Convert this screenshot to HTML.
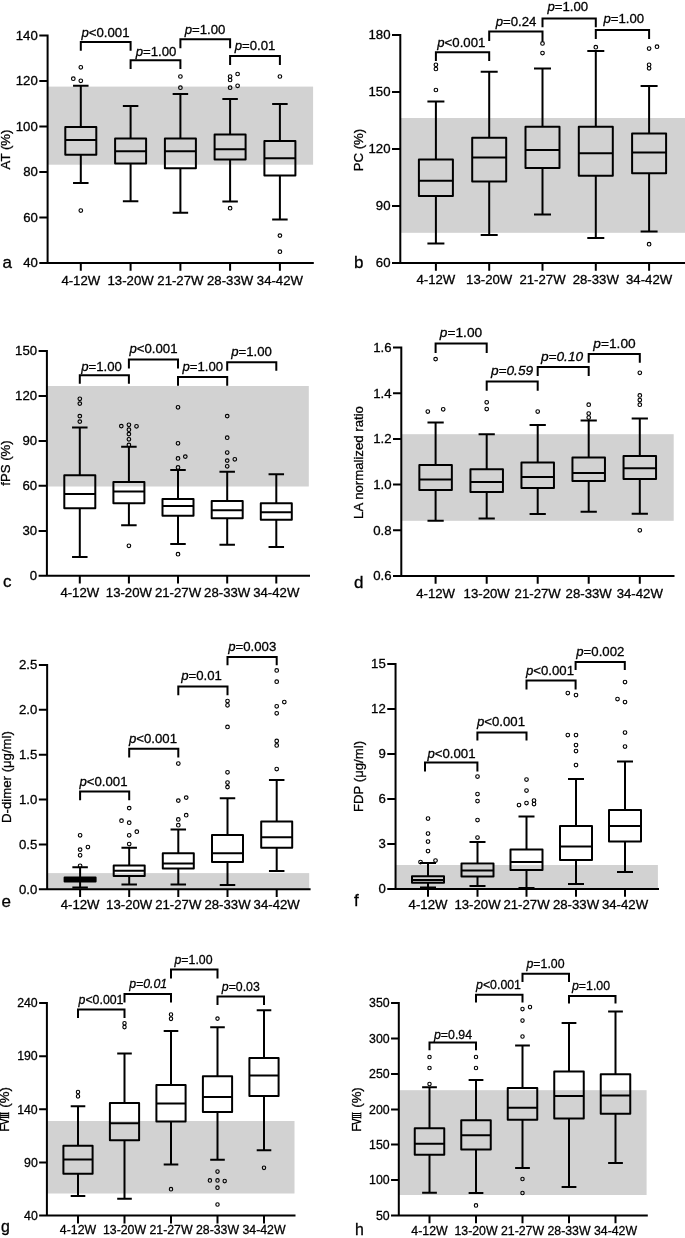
<!DOCTYPE html>
<html><head><meta charset="utf-8"><title>Figure</title>
<style>
html,body{margin:0;padding:0;background:#fff}
svg{display:block;will-change:transform}
text{font-family:"Liberation Sans",sans-serif;font-size:13.2px;fill:#000;stroke:#000;stroke-width:0.3px}
.l{fill:none;stroke:#000;stroke-width:2.0;stroke-linecap:butt;stroke-linejoin:miter}
.b{fill:none;stroke:#000;stroke-width:2.0;stroke-linejoin:round}
.o{fill:none;stroke:#000;stroke-width:1.15}
</style></head><body>
<svg width="685" height="1238" viewBox="0 0 685 1238">
<rect width="685" height="1238" fill="#fff"/>
<g id="panel-a">
<rect x="47.6" y="86.6" width="265.50" height="78.10" fill="#d2d2d2"/>
<path d="M47.6 34.60V263.0H313.8M39.30 35.6H47.6M39.30 81.1H47.6M39.30 126.6H47.6M39.30 172.0H47.6M39.30 217.5H47.6M39.30 263.0H47.6M80.8 263.0V270.80M130.6 263.0V270.80M180.4 263.0V270.80M230.1 263.0V270.80M279.9 263.0V270.80" class="l"/>
<text x="37.8" y="39.8" text-anchor="end">140</text>
<text x="37.8" y="85.3" text-anchor="end">120</text>
<text x="37.8" y="130.8" text-anchor="end">100</text>
<text x="37.8" y="176.2" text-anchor="end">80</text>
<text x="37.8" y="221.7" text-anchor="end">60</text>
<text x="37.8" y="267.2" text-anchor="end">40</text>
<text x="80.8" y="284.5" text-anchor="middle">4-12W</text>
<text x="130.6" y="284.5" text-anchor="middle">13-20W</text>
<text x="180.4" y="284.5" text-anchor="middle">21-27W</text>
<text x="230.1" y="284.5" text-anchor="middle">28-33W</text>
<text x="279.9" y="284.5" text-anchor="middle">34-42W</text>
<path d="M65.30 127H96.30V154.8H65.30ZM65.30 140H96.30M80.8 127V85.7M73.05 85.7H88.55M80.8 154.8V183M73.05 183H88.55M115.10 138.6H146.10V163.6H115.10ZM115.10 151.2H146.10M130.6 138.6V106M122.85 106H138.35M130.6 163.6V201.3M122.85 201.3H138.35M164.90 138.6H195.90V168.3H164.90ZM164.90 151.2H195.90M180.4 138.6V94M172.65 94H188.15M180.4 168.3V212.8M172.65 212.8H188.15M214.60 134.5H245.60V159.5H214.60ZM214.60 149.2H245.60M230.1 134.5V99M222.35 99H237.85M230.1 159.5V201.5M222.35 201.5H237.85M264.40 141H295.40V175.4H264.40ZM264.40 158.3H295.40M279.9 141V104M272.15 104H287.65M279.9 175.4V219.5M272.15 219.5H287.65" class="b"/>
<ellipse cx="80.8" cy="67.3" rx="1.80" ry="1.8" class="o"/>
<ellipse cx="73.3" cy="78.7" rx="1.80" ry="1.8" class="o"/>
<ellipse cx="80.8" cy="80.8" rx="1.80" ry="1.8" class="o"/>
<ellipse cx="80.8" cy="210.5" rx="1.80" ry="1.8" class="o"/>
<ellipse cx="180.4" cy="76.5" rx="1.80" ry="1.8" class="o"/>
<ellipse cx="180.4" cy="87.7" rx="1.80" ry="1.8" class="o"/>
<ellipse cx="230.1" cy="76.5" rx="1.80" ry="1.8" class="o"/>
<ellipse cx="237.6" cy="74" rx="1.80" ry="1.8" class="o"/>
<ellipse cx="230.1" cy="80" rx="1.80" ry="1.8" class="o"/>
<ellipse cx="237.6" cy="85.8" rx="1.80" ry="1.8" class="o"/>
<ellipse cx="230.1" cy="87.7" rx="1.80" ry="1.8" class="o"/>
<ellipse cx="230.1" cy="208.2" rx="1.80" ry="1.8" class="o"/>
<ellipse cx="279.9" cy="76.5" rx="1.80" ry="1.8" class="o"/>
<ellipse cx="279.9" cy="235.6" rx="1.80" ry="1.8" class="o"/>
<ellipse cx="279.9" cy="251.7" rx="1.80" ry="1.8" class="o"/>
<path d="M80.8 50.7V42H130.6V50.7M130.6 69V60.3H180.4V69M180.4 48.3V39.2H230.1V48.3M230.1 65V56H279.9V65" class="l"/>
<text x="105.5" y="37" text-anchor="middle"><tspan font-style="italic">p</tspan>&lt;0.001</text>
<text x="156" y="55.5" text-anchor="middle"><tspan font-style="italic">p</tspan>=1.00</text>
<text x="205" y="33.5" text-anchor="middle"><tspan font-style="italic">p</tspan>=1.00</text>
<text x="255" y="50" text-anchor="middle"><tspan font-style="italic">p</tspan>=0.01</text>
<text x="2.5" y="267.6" style="font-size:17px">a</text>
<text transform="translate(10 149.5) rotate(-90)" text-anchor="middle">AT (%)</text>
</g>
<g id="panel-b">
<rect x="400.3" y="118" width="284.70" height="114.80" fill="#d2d2d2"/>
<path d="M400.3 34.00V262.9H685M392.00 35.0H400.3M392.00 92.0H400.3M392.00 149.0H400.3M392.00 205.9H400.3M392.00 262.9H400.3M435.9 262.9V270.70M489.2 262.9V270.70M542.5 262.9V270.70M595.8 262.9V270.70M649.1 262.9V270.70" class="l"/>
<text x="390.5" y="39.2" text-anchor="end">180</text>
<text x="390.5" y="96.2" text-anchor="end">150</text>
<text x="390.5" y="153.2" text-anchor="end">120</text>
<text x="390.5" y="210.1" text-anchor="end">90</text>
<text x="390.5" y="267.1" text-anchor="end">60</text>
<text x="435.9" y="283.8" text-anchor="middle">4-12W</text>
<text x="489.2" y="283.8" text-anchor="middle">13-20W</text>
<text x="542.5" y="283.8" text-anchor="middle">21-27W</text>
<text x="595.8" y="283.8" text-anchor="middle">28-33W</text>
<text x="649.1" y="283.8" text-anchor="middle">34-42W</text>
<path d="M418.90 159.5H452.90V196H418.90ZM418.90 180.8H452.90M435.9 159.5V101.6M427.40 101.6H444.40M435.9 196V243.5M427.40 243.5H444.40M472.20 137.8H506.20V181.5H472.20ZM472.20 157.6H506.20M489.2 137.8V71.7M480.70 71.7H497.70M489.2 181.5V235M480.70 235H497.70M525.50 126.8H559.50V168H525.50ZM525.50 150H559.50M542.5 126.8V68.4M534.00 68.4H551.00M542.5 168V214.4M534.00 214.4H551.00M578.80 126.8H612.80V175.8H578.80ZM578.80 153.3H612.80M595.8 126.8V51M587.30 51H604.30M595.8 175.8V238M587.30 238H604.30M632.10 133.6H666.10V173.3H632.10ZM632.10 152.5H666.10M649.1 133.6V86M640.60 86H657.60M649.1 173.3V231.5M640.60 231.5H657.60" class="b"/>
<ellipse cx="435.9" cy="64.8" rx="1.80" ry="1.8" class="o"/>
<ellipse cx="435.9" cy="69" rx="1.80" ry="1.8" class="o"/>
<ellipse cx="435.9" cy="90" rx="1.80" ry="1.8" class="o"/>
<ellipse cx="542.5" cy="43.4" rx="1.80" ry="1.8" class="o"/>
<ellipse cx="542.5" cy="53" rx="1.80" ry="1.8" class="o"/>
<ellipse cx="595.8" cy="47.2" rx="1.80" ry="1.8" class="o"/>
<ellipse cx="649.1" cy="48.5" rx="1.80" ry="1.8" class="o"/>
<ellipse cx="657" cy="46.7" rx="1.80" ry="1.8" class="o"/>
<ellipse cx="649.1" cy="64.8" rx="1.80" ry="1.8" class="o"/>
<ellipse cx="649.1" cy="68.3" rx="1.80" ry="1.8" class="o"/>
<ellipse cx="649.1" cy="244.2" rx="1.80" ry="1.8" class="o"/>
<path d="M435.9 61V52.2H489.2V61M489.2 41V31.5H542.5V41M542.5 27.2V18.5H595.8V27.2M595.8 39V30H649.1V39" class="l"/>
<text x="461.3" y="47" text-anchor="middle"><tspan font-style="italic">p</tspan>&lt;0.001</text>
<text x="516" y="26" text-anchor="middle"><tspan font-style="italic">p</tspan>=0.24</text>
<text x="567.8" y="11" text-anchor="middle"><tspan font-style="italic">p</tspan>=1.00</text>
<text x="623.8" y="23" text-anchor="middle"><tspan font-style="italic">p</tspan>=1.00</text>
<text x="354" y="267.5" style="font-size:17px">b</text>
<text transform="translate(362.5 150) rotate(-90)" text-anchor="middle">PC (%)</text>
</g>
<g id="panel-c">
<rect x="46.9" y="386" width="261.90" height="100.50" fill="#d2d2d2"/>
<path d="M46.9 350.00V575.8H310M38.60 351.0H46.9M38.60 396.0H46.9M38.60 440.9H46.9M38.60 485.8H46.9M38.60 530.9H46.9M38.60 575.8H46.9M79.8 575.8V583.60M128.9 575.8V583.60M178 575.8V583.60M227.2 575.8V583.60M276.3 575.8V583.60" class="l"/>
<text x="37.1" y="355.2" text-anchor="end">150</text>
<text x="37.1" y="400.2" text-anchor="end">120</text>
<text x="37.1" y="445.1" text-anchor="end">90</text>
<text x="37.1" y="490.0" text-anchor="end">60</text>
<text x="37.1" y="535.1" text-anchor="end">30</text>
<text x="37.1" y="580.0" text-anchor="end">0</text>
<text x="79.8" y="596.8" text-anchor="middle">4-12W</text>
<text x="128.9" y="596.8" text-anchor="middle">13-20W</text>
<text x="178" y="596.8" text-anchor="middle">21-27W</text>
<text x="227.2" y="596.8" text-anchor="middle">28-33W</text>
<text x="276.3" y="596.8" text-anchor="middle">34-42W</text>
<path d="M64.30 475.2H95.30V508.2H64.30ZM64.30 494H95.30M79.8 475.2V427.5M72.05 427.5H87.55M79.8 508.2V557M72.05 557H87.55M113.40 482H144.40V503.2H113.40ZM113.40 491.5H144.40M128.9 482V446.7M121.15 446.7H136.65M128.9 503.2V525.2M121.15 525.2H136.65M162.50 499H193.50V515.7H162.50ZM162.50 506H193.50M178 499V470M170.25 470H185.75M178 515.7V544M170.25 544H185.75M211.70 501H242.70V518.2H211.70ZM211.70 510.2H242.70M227.2 501V471.7M219.45 471.7H234.95M227.2 518.2V544.8M219.45 544.8H234.95M260.80 503.2H291.80V519.7H260.80ZM260.80 512.2H291.80M276.3 503.2V474.2M268.55 474.2H284.05M276.3 519.7V547M268.55 547H284.05" class="b"/>
<ellipse cx="79.8" cy="398.8" rx="1.80" ry="1.8" class="o"/>
<ellipse cx="79.8" cy="403.6" rx="1.80" ry="1.8" class="o"/>
<ellipse cx="79.8" cy="416.1" rx="1.80" ry="1.8" class="o"/>
<ellipse cx="79.8" cy="421.6" rx="1.80" ry="1.8" class="o"/>
<ellipse cx="121.3" cy="426.1" rx="1.80" ry="1.8" class="o"/>
<ellipse cx="128.9" cy="424.8" rx="1.80" ry="1.8" class="o"/>
<ellipse cx="136.5" cy="426.3" rx="1.80" ry="1.8" class="o"/>
<ellipse cx="128.9" cy="429.7" rx="1.80" ry="1.8" class="o"/>
<ellipse cx="128.9" cy="434.1" rx="1.80" ry="1.8" class="o"/>
<ellipse cx="128.9" cy="439.3" rx="1.80" ry="1.8" class="o"/>
<ellipse cx="128.9" cy="444.9" rx="1.80" ry="1.8" class="o"/>
<ellipse cx="128.9" cy="545.8" rx="1.80" ry="1.8" class="o"/>
<ellipse cx="178" cy="407.3" rx="1.80" ry="1.8" class="o"/>
<ellipse cx="178" cy="443.3" rx="1.80" ry="1.8" class="o"/>
<ellipse cx="178" cy="458.4" rx="1.80" ry="1.8" class="o"/>
<ellipse cx="185.3" cy="456.6" rx="1.80" ry="1.8" class="o"/>
<ellipse cx="178" cy="467.4" rx="1.80" ry="1.8" class="o"/>
<ellipse cx="178" cy="554.2" rx="1.80" ry="1.8" class="o"/>
<ellipse cx="227.2" cy="416.1" rx="1.80" ry="1.8" class="o"/>
<ellipse cx="227.2" cy="437.7" rx="1.80" ry="1.8" class="o"/>
<ellipse cx="227.2" cy="452.5" rx="1.80" ry="1.8" class="o"/>
<ellipse cx="227.2" cy="460.6" rx="1.80" ry="1.8" class="o"/>
<ellipse cx="234.8" cy="459.3" rx="1.80" ry="1.8" class="o"/>
<ellipse cx="227.2" cy="466.3" rx="1.80" ry="1.8" class="o"/>
<path d="M79.8 383.7V375.2H128.9V383.7M128.9 368.5V359.6H178V368.5M178 385.7V377H227.2V385.7M227.2 370.7V362.2H276.3V370.7" class="l"/>
<text x="101.5" y="371" text-anchor="middle"><tspan font-style="italic">p</tspan>=1.00</text>
<text x="153.5" y="353" text-anchor="middle"><tspan font-style="italic">p</tspan>&lt;0.001</text>
<text x="202.8" y="371" text-anchor="middle"><tspan font-style="italic">p</tspan>=1.00</text>
<text x="251.5" y="356.2" text-anchor="middle"><tspan font-style="italic">p</tspan>=1.00</text>
<text x="3" y="586.5" style="font-size:17px">c</text>
<text transform="translate(10 463) rotate(-90)" text-anchor="middle">fPS (%)</text>
</g>
<g id="panel-d">
<rect x="401.3" y="434.2" width="272.40" height="86.60" fill="#d2d2d2"/>
<path d="M401.3 346.60V576.0H674.5M393.00 347.6H401.3M393.00 393.3H401.3M393.00 439.0H401.3M393.00 484.6H401.3M393.00 530.3H401.3M393.00 576.0H401.3M435.6 576.0V583.80M486.7 576.0V583.80M537.7 576.0V583.80M588.7 576.0V583.80M639.8 576.0V583.80" class="l"/>
<text x="391.5" y="351.8" text-anchor="end">1.6</text>
<text x="391.5" y="397.5" text-anchor="end">1.4</text>
<text x="391.5" y="443.2" text-anchor="end">1.2</text>
<text x="391.5" y="488.8" text-anchor="end">1.0</text>
<text x="391.5" y="534.5" text-anchor="end">0.8</text>
<text x="391.5" y="580.2" text-anchor="end">0.6</text>
<text x="435.6" y="597.5" text-anchor="middle">4-12W</text>
<text x="486.7" y="597.5" text-anchor="middle">13-20W</text>
<text x="537.7" y="597.5" text-anchor="middle">21-27W</text>
<text x="588.7" y="597.5" text-anchor="middle">28-33W</text>
<text x="639.8" y="597.5" text-anchor="middle">34-42W</text>
<path d="M419.35 465H451.85V490.1H419.35ZM419.35 479.6H451.85M435.6 465V422.6M427.48 422.6H443.73M435.6 490.1V520.8M427.48 520.8H443.73M470.45 469.2H502.95V492.1H470.45ZM470.45 482H502.95M486.7 469.2V434.2M478.57 434.2H494.82M486.7 492.1V518.6M478.57 518.6H494.82M521.45 462.5H553.95V488H521.45ZM521.45 477H553.95M537.7 462.5V425M529.58 425H545.83M537.7 488V514M529.58 514H545.83M572.45 457.6H604.95V481H572.45ZM572.45 473H604.95M588.7 457.6V420.5M580.58 420.5H596.83M588.7 481V511.8M580.58 511.8H596.83M623.55 456H656.05V478.9H623.55ZM623.55 468.3H656.05M639.8 456V418.5M631.67 418.5H647.92M639.8 478.9V513.8M631.67 513.8H647.92" class="b"/>
<ellipse cx="435.6" cy="359.1" rx="1.80" ry="1.8" class="o"/>
<ellipse cx="427.8" cy="411.5" rx="1.80" ry="1.8" class="o"/>
<ellipse cx="443.2" cy="409.3" rx="1.80" ry="1.8" class="o"/>
<ellipse cx="486.7" cy="402.3" rx="1.80" ry="1.8" class="o"/>
<ellipse cx="486.7" cy="409" rx="1.80" ry="1.8" class="o"/>
<ellipse cx="537.7" cy="411.5" rx="1.80" ry="1.8" class="o"/>
<ellipse cx="588.7" cy="404.7" rx="1.80" ry="1.8" class="o"/>
<ellipse cx="588.7" cy="413.5" rx="1.80" ry="1.8" class="o"/>
<ellipse cx="588.7" cy="417.5" rx="1.80" ry="1.8" class="o"/>
<ellipse cx="639.8" cy="372.8" rx="1.80" ry="1.8" class="o"/>
<ellipse cx="639.8" cy="395.4" rx="1.80" ry="1.8" class="o"/>
<ellipse cx="639.8" cy="400" rx="1.80" ry="1.8" class="o"/>
<ellipse cx="639.8" cy="404.7" rx="1.80" ry="1.8" class="o"/>
<ellipse cx="639.8" cy="530.3" rx="1.80" ry="1.8" class="o"/>
<path d="M435.6 353V343.5H486.7V353M486.7 390.8V381.5H537.7V390.8M537.7 376V367H588.7V376M588.7 362.7V354H639.8V362.7" class="l"/>
<text x="461" y="337" text-anchor="middle" style="font-size:13.7px"><tspan font-style="italic">p</tspan>=1.00</text>
<text x="512" y="375" text-anchor="middle" font-style="italic" style="font-size:13.7px">p=0.59</text>
<text x="562" y="361" text-anchor="middle" font-style="italic" style="font-size:13.7px">p=0.10</text>
<text x="614.5" y="347.5" text-anchor="middle" style="font-size:13.7px"><tspan font-style="italic">p</tspan>=1.00</text>
<text x="354" y="588" style="font-size:17px">d</text>
<text transform="translate(363 462.5) rotate(-90)" text-anchor="middle">LA normalized ratio</text>
</g>
<g id="panel-e">
<rect x="47.15" y="873.1" width="262.05" height="15.90" fill="#d2d2d2"/>
<path d="M47.15 663.90V889.3H310.6M38.85 664.9H47.15M38.85 709.8H47.15M38.85 754.7H47.15M38.85 799.5H47.15M38.85 844.4H47.15M38.85 889.3H47.15M80.1 889.3V897.10M129.2 889.3V897.10M178.3 889.3V897.10M227.5 889.3V897.10M276.7 889.3V897.10" class="l"/>
<text x="37.35" y="669.1" text-anchor="end">2.5</text>
<text x="37.35" y="714.0" text-anchor="end">2.0</text>
<text x="37.35" y="758.9" text-anchor="end">1.5</text>
<text x="37.35" y="803.7" text-anchor="end">1.0</text>
<text x="37.35" y="848.6" text-anchor="end">0.5</text>
<text x="37.35" y="893.5" text-anchor="end">0.0</text>
<text x="80.1" y="909.4" text-anchor="middle">4-12W</text>
<text x="129.2" y="909.4" text-anchor="middle">13-20W</text>
<text x="178.3" y="909.4" text-anchor="middle">21-27W</text>
<text x="227.5" y="909.4" text-anchor="middle">28-33W</text>
<text x="276.7" y="909.4" text-anchor="middle">34-42W</text>
<path d="M64.60 877.6H95.60V881.5H64.60ZM64.60 879.5H95.60M80.1 877.6V867.2M72.35 867.2H87.85M80.1 881.5V887.4M72.35 887.4H87.85M113.70 865.6H144.70V875.9H113.70ZM113.70 870.7H144.70M129.2 865.6V847.8M121.45 847.8H136.95M129.2 875.9V884.5M121.45 884.5H136.95M162.80 853.3H193.80V868.6H162.80ZM162.80 863.4H193.80M178.3 853.3V829.5M170.55 829.5H186.05M178.3 868.6V884.5M170.55 884.5H186.05M212.00 835H243.00V861.9H212.00ZM212.00 853.3H243.00M227.5 835V798.3M219.75 798.3H235.25M227.5 861.9V885M219.75 885H235.25M261.20 821.4H292.20V847.8H261.20ZM261.20 837.3H292.20M276.7 821.4V780M268.95 780H284.45M276.7 847.8V870.9M268.95 870.9H284.45" class="b"/>
<ellipse cx="80.1" cy="835.3" rx="1.80" ry="1.8" class="o"/>
<ellipse cx="87.9" cy="847" rx="1.80" ry="1.8" class="o"/>
<ellipse cx="80.1" cy="849.6" rx="1.80" ry="1.8" class="o"/>
<ellipse cx="80.1" cy="855.3" rx="1.80" ry="1.8" class="o"/>
<ellipse cx="80.1" cy="865.8" rx="1.80" ry="1.8" class="o"/>
<ellipse cx="129.2" cy="808.1" rx="1.80" ry="1.8" class="o"/>
<ellipse cx="121.5" cy="820.7" rx="1.80" ry="1.8" class="o"/>
<ellipse cx="129.2" cy="822.7" rx="1.80" ry="1.8" class="o"/>
<ellipse cx="136.8" cy="831.7" rx="1.80" ry="1.8" class="o"/>
<ellipse cx="129.2" cy="835.3" rx="1.80" ry="1.8" class="o"/>
<ellipse cx="129.2" cy="844" rx="1.80" ry="1.8" class="o"/>
<ellipse cx="178.3" cy="763.5" rx="1.80" ry="1.8" class="o"/>
<ellipse cx="178.3" cy="800.6" rx="1.80" ry="1.8" class="o"/>
<ellipse cx="186.2" cy="797.6" rx="1.80" ry="1.8" class="o"/>
<ellipse cx="186.2" cy="815.2" rx="1.80" ry="1.8" class="o"/>
<ellipse cx="178.3" cy="819.4" rx="1.80" ry="1.8" class="o"/>
<ellipse cx="178.3" cy="825.2" rx="1.80" ry="1.8" class="o"/>
<ellipse cx="227.5" cy="701" rx="1.80" ry="1.8" class="o"/>
<ellipse cx="227.5" cy="705.3" rx="1.80" ry="1.8" class="o"/>
<ellipse cx="227.5" cy="726.9" rx="1.80" ry="1.8" class="o"/>
<ellipse cx="227.5" cy="772.3" rx="1.80" ry="1.8" class="o"/>
<ellipse cx="227.5" cy="782.5" rx="1.80" ry="1.8" class="o"/>
<ellipse cx="227.5" cy="787.1" rx="1.80" ry="1.8" class="o"/>
<ellipse cx="276.7" cy="670.4" rx="1.80" ry="1.8" class="o"/>
<ellipse cx="276.7" cy="681.7" rx="1.80" ry="1.8" class="o"/>
<ellipse cx="284.3" cy="702" rx="1.80" ry="1.8" class="o"/>
<ellipse cx="276.7" cy="706.3" rx="1.80" ry="1.8" class="o"/>
<ellipse cx="276.7" cy="713.3" rx="1.80" ry="1.8" class="o"/>
<ellipse cx="276.7" cy="740.9" rx="1.80" ry="1.8" class="o"/>
<ellipse cx="276.7" cy="745.4" rx="1.80" ry="1.8" class="o"/>
<ellipse cx="276.7" cy="769" rx="1.80" ry="1.8" class="o"/>
<path d="M80.1 800.2V791.4H129.2V800.2M129.2 757.5V748.7H178.3V757.5M178.3 695.2V686.4H227.5V695.2M227.5 665.2V657H276.7V665.2" class="l"/>
<text x="103.5" y="786" text-anchor="middle"><tspan font-style="italic">p</tspan>&lt;0.001</text>
<text x="153" y="742.8" text-anchor="middle"><tspan font-style="italic">p</tspan>&lt;0.001</text>
<text x="201.5" y="680.2" text-anchor="middle"><tspan font-style="italic">p</tspan>=0.01</text>
<text x="252.2" y="650.5" text-anchor="middle"><tspan font-style="italic">p</tspan>=0.003</text>
<text x="1.5" y="906.8" style="font-size:17px">e</text>
<text transform="translate(11 777) rotate(-90)" text-anchor="middle">D-dimer (μg/ml)</text>
</g>
<g id="panel-f">
<rect x="395.55" y="865" width="262.35" height="24.00" fill="#d2d2d2"/>
<path d="M395.55 663.10V889.0H659M387.25 664.1H395.55M387.25 709.0H395.55M387.25 754.0H395.55M387.25 799.0H395.55M387.25 844.0H395.55M387.25 889.0H395.55M428 889.0V896.80M477.5 889.0V896.80M526.5 889.0V896.80M576 889.0V896.80M625 889.0V896.80" class="l"/>
<text x="385.75" y="668.3" text-anchor="end">15</text>
<text x="385.75" y="713.2" text-anchor="end">12</text>
<text x="385.75" y="758.2" text-anchor="end">9</text>
<text x="385.75" y="803.2" text-anchor="end">6</text>
<text x="385.75" y="848.2" text-anchor="end">3</text>
<text x="385.75" y="893.2" text-anchor="end">0</text>
<text x="428" y="909" text-anchor="middle">4-12W</text>
<text x="477.5" y="909" text-anchor="middle">13-20W</text>
<text x="526.5" y="909" text-anchor="middle">21-27W</text>
<text x="576" y="909" text-anchor="middle">28-33W</text>
<text x="625" y="909" text-anchor="middle">34-42W</text>
<path d="M412.00 876.2H444.00V882.7H412.00ZM412.00 880H444.00M428 876.2V863M420.00 863H436.00M428 882.7V887.5M420.00 887.5H436.00M461.50 863.5H493.50V876.5H461.50ZM461.50 870.5H493.50M477.5 863.5V842M469.50 842H485.50M477.5 876.5V886M469.50 886H485.50M510.50 849.5H542.50V870H510.50ZM510.50 862H542.50M526.5 849.5V816.5M518.50 816.5H534.50M526.5 870V888M518.50 888H534.50M560.00 826H592.00V860H560.00ZM560.00 846.5H592.00M576 826V779M568.00 779H584.00M576 860V884M568.00 884H584.00M609.00 810H641.00V841.5H609.00ZM609.00 826H641.00M625 810V761.5M617.00 761.5H633.00M625 841.5V872M617.00 872H633.00" class="b"/>
<ellipse cx="428" cy="818.5" rx="1.80" ry="1.8" class="o"/>
<ellipse cx="428" cy="833.5" rx="1.80" ry="1.8" class="o"/>
<ellipse cx="428" cy="841.5" rx="1.80" ry="1.8" class="o"/>
<ellipse cx="428" cy="851" rx="1.80" ry="1.8" class="o"/>
<ellipse cx="420.5" cy="862" rx="1.80" ry="1.8" class="o"/>
<ellipse cx="435.5" cy="860.5" rx="1.80" ry="1.8" class="o"/>
<ellipse cx="477.5" cy="776.5" rx="1.80" ry="1.8" class="o"/>
<ellipse cx="477.5" cy="794" rx="1.80" ry="1.8" class="o"/>
<ellipse cx="477.5" cy="801" rx="1.80" ry="1.8" class="o"/>
<ellipse cx="477.5" cy="820" rx="1.80" ry="1.8" class="o"/>
<ellipse cx="477.5" cy="837.5" rx="1.80" ry="1.8" class="o"/>
<ellipse cx="526.5" cy="779.5" rx="1.80" ry="1.8" class="o"/>
<ellipse cx="526.5" cy="790.5" rx="1.80" ry="1.8" class="o"/>
<ellipse cx="534" cy="800.5" rx="1.80" ry="1.8" class="o"/>
<ellipse cx="534" cy="804" rx="1.80" ry="1.8" class="o"/>
<ellipse cx="526.5" cy="803" rx="1.80" ry="1.8" class="o"/>
<ellipse cx="519" cy="805" rx="1.80" ry="1.8" class="o"/>
<ellipse cx="567.8" cy="693" rx="1.80" ry="1.8" class="o"/>
<ellipse cx="576" cy="695" rx="1.80" ry="1.8" class="o"/>
<ellipse cx="567.8" cy="735" rx="1.80" ry="1.8" class="o"/>
<ellipse cx="576" cy="735" rx="1.80" ry="1.8" class="o"/>
<ellipse cx="576" cy="745" rx="1.80" ry="1.8" class="o"/>
<ellipse cx="576" cy="751" rx="1.80" ry="1.8" class="o"/>
<ellipse cx="576" cy="765" rx="1.80" ry="1.8" class="o"/>
<ellipse cx="625" cy="682" rx="1.80" ry="1.8" class="o"/>
<ellipse cx="617.5" cy="699" rx="1.80" ry="1.8" class="o"/>
<ellipse cx="625" cy="702" rx="1.80" ry="1.8" class="o"/>
<ellipse cx="625" cy="732.5" rx="1.80" ry="1.8" class="o"/>
<ellipse cx="625" cy="746.5" rx="1.80" ry="1.8" class="o"/>
<path d="M425 771.5V762.5H477.4V771.5M477.4 740.5V732.4H526.5V740.5M526.5 689.5V680.5H575.6V689.5M575.6 670V662H624.8V670" class="l"/>
<text x="451.5" y="757.5" text-anchor="middle"><tspan font-style="italic">p</tspan>&lt;0.001</text>
<text x="501" y="725.5" text-anchor="middle"><tspan font-style="italic">p</tspan>&lt;0.001</text>
<text x="550" y="675" text-anchor="middle"><tspan font-style="italic">p</tspan>&lt;0.001</text>
<text x="600.3" y="655.5" text-anchor="middle"><tspan font-style="italic">p</tspan>=0.002</text>
<text x="354" y="906" style="font-size:17px">f</text>
<text transform="translate(362.5 776.5) rotate(-90)" text-anchor="middle">FDP (μg/ml)</text>
</g>
<g id="panel-g">
<rect x="46.9" y="1121" width="247.60" height="72.50" fill="#d2d2d2"/>
<path d="M46.9 1002.00V1215.6H295.5M39.14 1003.0H46.9M39.14 1056.2H46.9M39.14 1109.3H46.9M39.14 1162.5H46.9M39.14 1215.6H46.9M78 1215.6V1223.40M124.5 1215.6V1223.40M171 1215.6V1223.40M217.5 1215.6V1223.40M264 1215.6V1223.40" class="l"/>
<text transform="translate(37.74 1007.2) scale(0.935 1)" text-anchor="end">240</text>
<text transform="translate(37.74 1060.4) scale(0.935 1)" text-anchor="end">190</text>
<text transform="translate(37.74 1113.5) scale(0.935 1)" text-anchor="end">140</text>
<text transform="translate(37.74 1166.7) scale(0.935 1)" text-anchor="end">90</text>
<text transform="translate(37.74 1219.8) scale(0.935 1)" text-anchor="end">40</text>
<text transform="translate(78 1234.3) scale(0.935 1)" text-anchor="middle">4-12W</text>
<text transform="translate(124.5 1234.3) scale(0.935 1)" text-anchor="middle">13-20W</text>
<text transform="translate(171 1234.3) scale(0.935 1)" text-anchor="middle">21-27W</text>
<text transform="translate(217.5 1234.3) scale(0.935 1)" text-anchor="middle">28-33W</text>
<text transform="translate(264 1234.3) scale(0.935 1)" text-anchor="middle">34-42W</text>
<path d="M63.40 1145.7H92.60V1173.8H63.40ZM63.40 1159.6H92.60M78 1145.7V1106.3M70.70 1106.3H85.30M78 1173.8V1196M70.70 1196H85.30M109.90 1103H139.10V1140.2H109.90ZM109.90 1123.2H139.10M124.5 1103V1053.5M117.20 1053.5H131.80M124.5 1140.2V1198.7M117.20 1198.7H131.80M156.40 1085H185.60V1121.4H156.40ZM156.40 1103.5H185.60M171 1085V1031.1M163.70 1031.1H178.30M171 1121.4V1164.6M163.70 1164.6H178.30M202.90 1076.3H232.10V1112H202.90ZM202.90 1097H232.10M217.5 1076.3V1027.3M210.20 1027.3H224.80M217.5 1112V1159.8M210.20 1159.8H224.80M249.40 1058H278.60V1096H249.40ZM249.40 1075.5H278.60M264 1058V1010.2M256.70 1010.2H271.30M264 1096V1150.2M256.70 1150.2H271.30" class="b"/>
<ellipse cx="78" cy="1092" rx="1.68" ry="1.8" class="o"/>
<ellipse cx="78" cy="1096.3" rx="1.68" ry="1.8" class="o"/>
<ellipse cx="124.5" cy="1023.3" rx="1.68" ry="1.8" class="o"/>
<ellipse cx="124.5" cy="1027.1" rx="1.68" ry="1.8" class="o"/>
<ellipse cx="171" cy="1014.5" rx="1.68" ry="1.8" class="o"/>
<ellipse cx="171" cy="1018.8" rx="1.68" ry="1.8" class="o"/>
<ellipse cx="171" cy="1189.2" rx="1.68" ry="1.8" class="o"/>
<ellipse cx="217.5" cy="1018.6" rx="1.68" ry="1.8" class="o"/>
<ellipse cx="217.5" cy="1171.6" rx="1.68" ry="1.8" class="o"/>
<ellipse cx="209.9" cy="1180.4" rx="1.68" ry="1.8" class="o"/>
<ellipse cx="217.5" cy="1180.4" rx="1.68" ry="1.8" class="o"/>
<ellipse cx="224.7" cy="1181.1" rx="1.68" ry="1.8" class="o"/>
<ellipse cx="217.5" cy="1187.7" rx="1.68" ry="1.8" class="o"/>
<ellipse cx="217.5" cy="1204.5" rx="1.68" ry="1.8" class="o"/>
<ellipse cx="264" cy="1167.8" rx="1.68" ry="1.8" class="o"/>
<path d="M78 1018V1009.5H124.5V1018M124.5 1002.5V994H171V1002.5M171 978.5V969.5H217.5V978.5M217.5 1005V996.4H264V1005" class="l"/>
<text transform="translate(101 1004) scale(0.935 1)" text-anchor="middle"><tspan font-style="italic">p</tspan>&lt;0.001</text>
<text transform="translate(148.2 988.2) scale(0.935 1)" text-anchor="middle" font-style="italic">p=0.01</text>
<text transform="translate(193.5 963.5) scale(0.935 1)" text-anchor="middle"><tspan font-style="italic">p</tspan>=1.00</text>
<text transform="translate(240.8 990.7) scale(0.935 1)" text-anchor="middle"><tspan font-style="italic">p</tspan>=0.03</text>
<text transform="translate(1 1232) scale(0.935 1)" style="font-size:17px">g</text>
<g transform="translate(9.1 1131.7) rotate(-90)"><text x="0" y="0">F</text><path d="M7.6 -9.1L10.1 -0.3L12.6 -9.1M14.3 -9V-0.3M16.3 -9V-0.3M18.3 -9V-0.3" fill="none" stroke="#000" stroke-width="1.15" stroke-linejoin="bevel"/><path d="M7 -8.9H8.8M11.6 -8.9H19.5M13.2 -0.4H19.5" fill="none" stroke="#000" stroke-width="0.9"/><text x="24" y="0">(%)</text></g>
</g>
<g id="panel-h">
<rect x="398.8" y="1090.2" width="247.80" height="104.80" fill="#d2d2d2"/>
<path d="M398.8 1002.00V1215.5H647.8M391.04 1003.0H398.8M391.04 1038.5H398.8M391.04 1074.0H398.8M391.04 1109.5H398.8M391.04 1144.5H398.8M391.04 1180.0H398.8M391.04 1215.5H398.8M429.5 1215.5V1223.30M476 1215.5V1223.30M522.5 1215.5V1223.30M569 1215.5V1223.30M615.5 1215.5V1223.30" class="l"/>
<text transform="translate(389.64 1007.2) scale(0.935 1)" text-anchor="end">350</text>
<text transform="translate(389.64 1042.7) scale(0.935 1)" text-anchor="end">300</text>
<text transform="translate(389.64 1078.2) scale(0.935 1)" text-anchor="end">250</text>
<text transform="translate(389.64 1113.7) scale(0.935 1)" text-anchor="end">200</text>
<text transform="translate(389.64 1148.7) scale(0.935 1)" text-anchor="end">150</text>
<text transform="translate(389.64 1184.2) scale(0.935 1)" text-anchor="end">100</text>
<text transform="translate(389.64 1219.7) scale(0.935 1)" text-anchor="end">50</text>
<text transform="translate(429.5 1235.2) scale(0.935 1)" text-anchor="middle">4-12W</text>
<text transform="translate(476 1235.2) scale(0.935 1)" text-anchor="middle">13-20W</text>
<text transform="translate(522.5 1235.2) scale(0.935 1)" text-anchor="middle">21-27W</text>
<text transform="translate(569 1235.2) scale(0.935 1)" text-anchor="middle">28-33W</text>
<text transform="translate(615.5 1235.2) scale(0.935 1)" text-anchor="middle">34-42W</text>
<path d="M414.75 1128.3H444.25V1154.7H414.75ZM414.75 1143.8H444.25M429.5 1128.3V1087.3M422.12 1087.3H436.88M429.5 1154.7V1192.8M422.12 1192.8H436.88M461.25 1120.3H490.75V1149.4H461.25ZM461.25 1135.2H490.75M476 1120.3V1080M468.62 1080H483.38M476 1149.4V1193M468.62 1193H483.38M507.75 1088H537.25V1119.7H507.75ZM507.75 1107.7H537.25M522.5 1088V1045.6M515.12 1045.6H529.88M522.5 1119.7V1168M515.12 1168H529.88M554.25 1071.5H583.75V1118.5H554.25ZM554.25 1096H583.75M569 1071.5V1023M561.62 1023H576.38M569 1118.5V1187M561.62 1187H576.38M600.75 1074.3H630.25V1113.8H600.75ZM600.75 1095.4H630.25M615.5 1074.3V1011.4M608.12 1011.4H622.88M615.5 1113.8V1163M608.12 1163H622.88" class="b"/>
<ellipse cx="429.5" cy="1057" rx="1.68" ry="1.8" class="o"/>
<ellipse cx="429.5" cy="1068" rx="1.68" ry="1.8" class="o"/>
<ellipse cx="429.5" cy="1084" rx="1.68" ry="1.8" class="o"/>
<ellipse cx="476" cy="1057" rx="1.68" ry="1.8" class="o"/>
<ellipse cx="476" cy="1068" rx="1.68" ry="1.8" class="o"/>
<ellipse cx="476" cy="1205.4" rx="1.68" ry="1.8" class="o"/>
<ellipse cx="522.5" cy="1009" rx="1.68" ry="1.8" class="o"/>
<ellipse cx="530" cy="1007" rx="1.68" ry="1.8" class="o"/>
<ellipse cx="522.5" cy="1020.5" rx="1.68" ry="1.8" class="o"/>
<ellipse cx="522.5" cy="1036.5" rx="1.68" ry="1.8" class="o"/>
<ellipse cx="522.5" cy="1179" rx="1.68" ry="1.8" class="o"/>
<ellipse cx="522.5" cy="1193" rx="1.68" ry="1.8" class="o"/>
<path d="M429.5 1050.2V1042.4H476V1050.2M476 1002.6V994.7H522.5V1002.6M522.5 982V973.7H569V982M569 1003.6V996H615.5V1003.6" class="l"/>
<text transform="translate(453 1038.5) scale(0.935 1)" text-anchor="middle"><tspan font-style="italic">p</tspan>=0.94</text>
<text transform="translate(498.5 989) scale(0.935 1)" text-anchor="middle"><tspan font-style="italic">p</tspan>&lt;0.001</text>
<text transform="translate(545.5 968) scale(0.935 1)" text-anchor="middle"><tspan font-style="italic">p</tspan>=1.00</text>
<text transform="translate(591 990.2) scale(0.935 1)" text-anchor="middle"><tspan font-style="italic">p</tspan>=1.00</text>
<text transform="translate(355 1234.6) scale(0.935 1)" style="font-size:17px">h</text>
<g transform="translate(361.3 1131.75) rotate(-90)"><text x="0" y="0">F</text><path d="M7.6 -9.1L10.1 -0.3L12.6 -9.1M14.3 -9V-0.3M16.3 -9V-0.3M18.3 -9V-0.3" fill="none" stroke="#000" stroke-width="1.15" stroke-linejoin="bevel"/><path d="M7 -8.9H8.8M11.6 -8.9H19.5M13.2 -0.4H19.5" fill="none" stroke="#000" stroke-width="0.9"/><text x="24" y="0">(%)</text></g>
</g>
</svg>
</body></html>
